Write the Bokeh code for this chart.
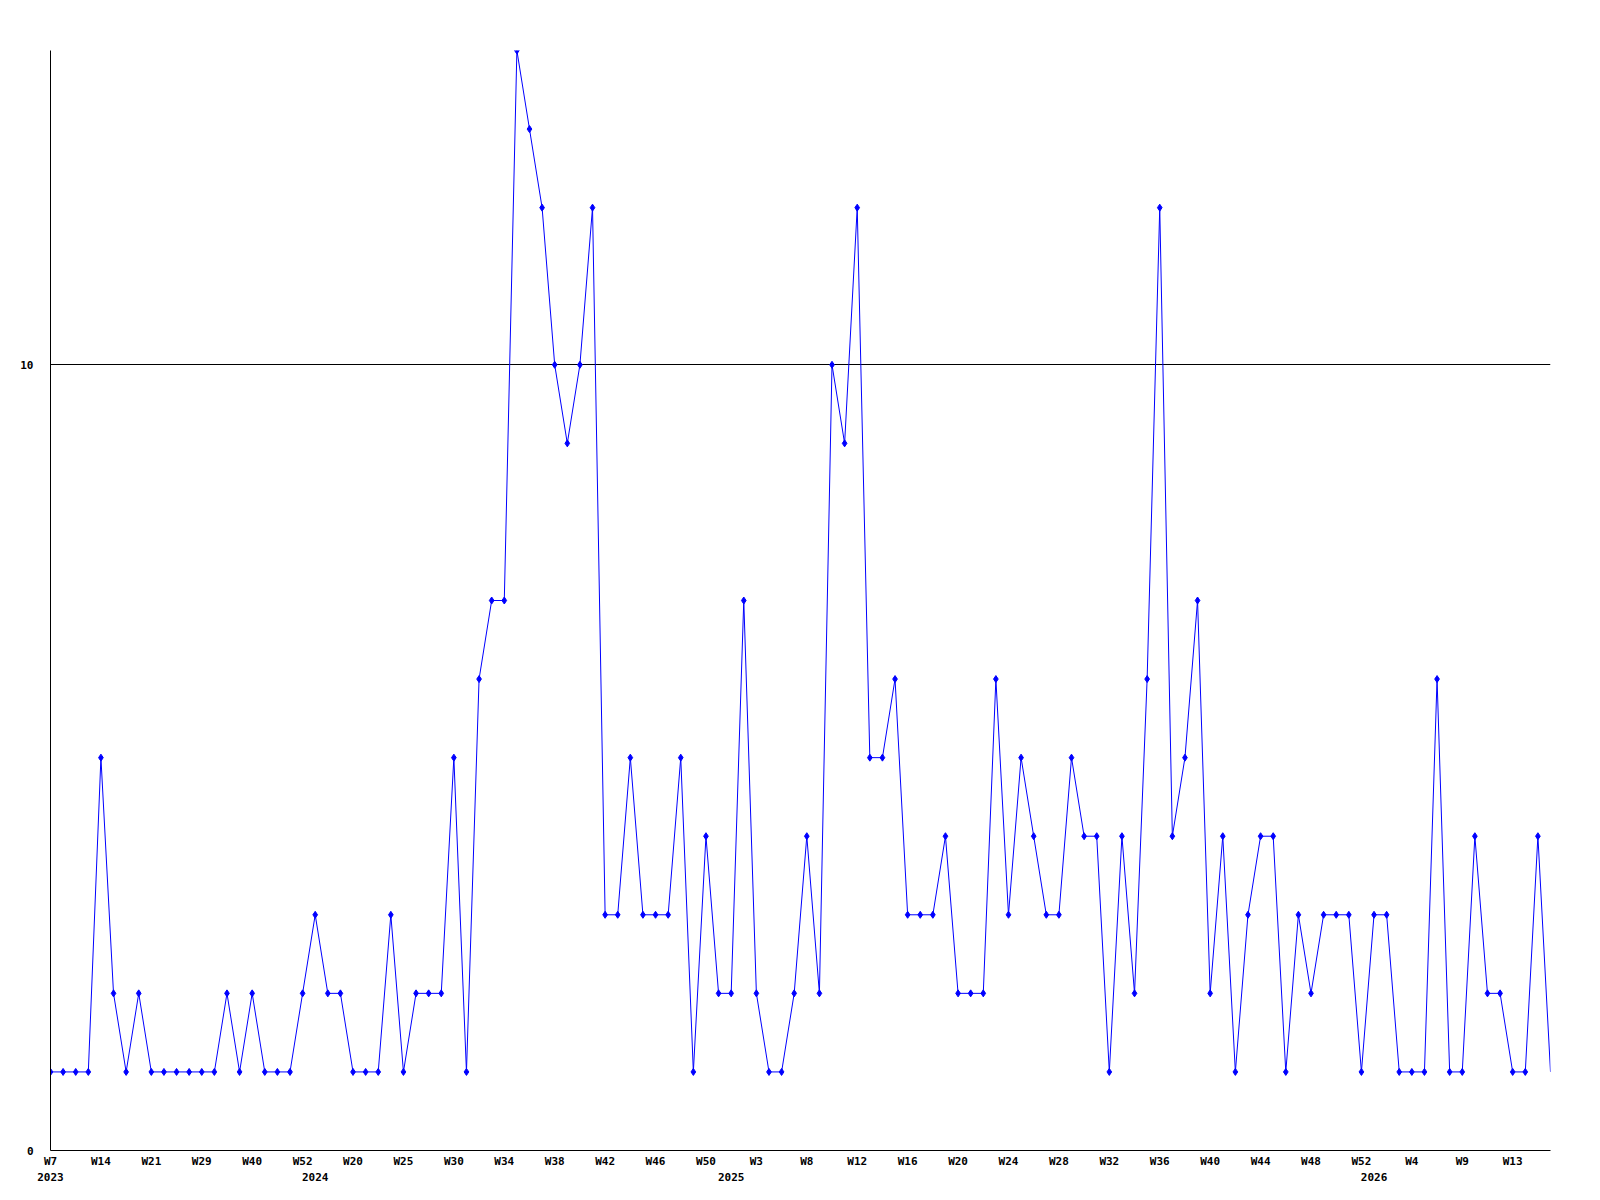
from bokeh.plotting import figure
from bokeh.models import Range1d, FixedTicker, LinearAxis, ColumnDataSource
from bokeh.embed import file_html
from bokeh.resources import INLINE

# weekly counts, one per plotted week (oldest first)
counts = [
    1, 1, 1, 1, 5, 2, 1, 2, 1, 1,
    1, 1, 1, 1, 2, 1, 2, 1, 1, 1,
    2, 3, 2, 2, 1, 1, 1, 3, 1, 2,
    2, 2, 5, 1, 6, 7, 7, 14, 13, 12,
    10, 9, 10, 12, 3, 3, 5, 3, 3, 3,
    5, 1, 4, 2, 2, 7, 2, 1, 1, 2,
    4, 2, 10, 9, 12, 5, 5, 6, 3, 3,
    3, 4, 2, 2, 2, 6, 3, 5, 4, 3,
    3, 5, 4, 4, 1, 4, 2, 6, 12, 4,
    5, 7, 2, 4, 1, 3, 4, 4, 1, 3,
    2, 3, 3, 3, 1, 3, 3, 1, 1, 1,
    6, 1, 1, 4, 2, 2, 1, 1, 4, 1,
]

# week tick labels, one every 4th plotted week
week_labels = ["W7", "W14", "W21", "W29", "W40", "W52", "W20", "W25", "W30", "W34",
               "W38", "W42", "W46", "W50", "W3", "W8", "W12", "W16", "W20", "W24",
               "W28", "W32", "W36", "W40", "W44", "W48", "W52", "W4", "W9", "W13"]
week_label_step = 4

# year labels at the first plotted week of each year
years = ["2023", "2024", "2025", "2026"]
year_first_index = [0, 21, 54, 105]

y_ticks = [0, 10]
y_max = 14

FONT = "DejaVu Sans Mono"
FSIZE = "11px"

n = len(counts)
xs = list(range(n))

p = figure(width=1592, height=1192, output_backend="svg", toolbar_location=None,
           x_range=Range1d(0, n - 1), y_range=Range1d(0, y_max),
           min_border_left=50, min_border_right=42, min_border_top=50, min_border_bottom=42)
p.outline_line_color = None
p.background_fill_color = "white"
p.border_fill_color = "white"

# grids
p.xgrid.visible = False
p.ygrid.ticker = FixedTicker(ticks=[10])
p.ygrid.grid_line_color = "black"
p.ygrid.grid_line_alpha = 1.0
p.ygrid.grid_line_width = 1

# y axis
ya = p.yaxis[0]
ya.ticker = FixedTicker(ticks=y_ticks)
ya.major_tick_out = 0
ya.major_tick_in = 0
ya.minor_tick_out = 0
ya.minor_tick_in = 0
ya.axis_line_color = "black"
ya.major_label_standoff = 17
ya.major_label_text_font = FONT
ya.major_label_text_font_size = FSIZE
ya.major_label_text_font_style = "bold"
ya.major_label_text_color = "black"

# week axis
wk_ticks = [i * week_label_step for i in range(len(week_labels))]
xa = p.xaxis[0]
xa.ticker = FixedTicker(ticks=wk_ticks)
xa.major_label_overrides = {t: l for t, l in zip(wk_ticks, week_labels)}
xa.major_tick_out = 0
xa.major_tick_in = 0
xa.minor_tick_out = 0
xa.minor_tick_in = 0
xa.axis_line_color = "black"
xa.major_label_standoff = 4
xa.major_label_text_font = FONT
xa.major_label_text_font_size = FSIZE
xa.major_label_text_font_style = "bold"
xa.major_label_text_color = "black"

# year axis
ya2 = LinearAxis(ticker=FixedTicker(ticks=year_first_index),
                 major_label_overrides={t: l for t, l in zip(year_first_index, years)})
ya2.axis_line_color = None
ya2.major_tick_out = 0
ya2.major_tick_in = 0
ya2.minor_tick_out = 0
ya2.minor_tick_in = 0
ya2.major_label_standoff = 2
ya2.major_label_text_font = FONT
ya2.major_label_text_font_size = FSIZE
ya2.major_label_text_font_style = "bold"
ya2.major_label_text_color = "black"
p.add_layout(ya2, "below")

src = ColumnDataSource(dict(x=xs, y=counts))
p.line("x", "y", source=src, line_color="#0000FF", line_width=1)
msrc = ColumnDataSource(dict(x=xs[:-1], y=counts[:-1]))
p.scatter("x", "y", source=msrc, marker="diamond", size=7,
          fill_color="#0000FF", line_color="#0000FF", line_width=1)

open("out.html", "w").write(file_html(p, INLINE))
